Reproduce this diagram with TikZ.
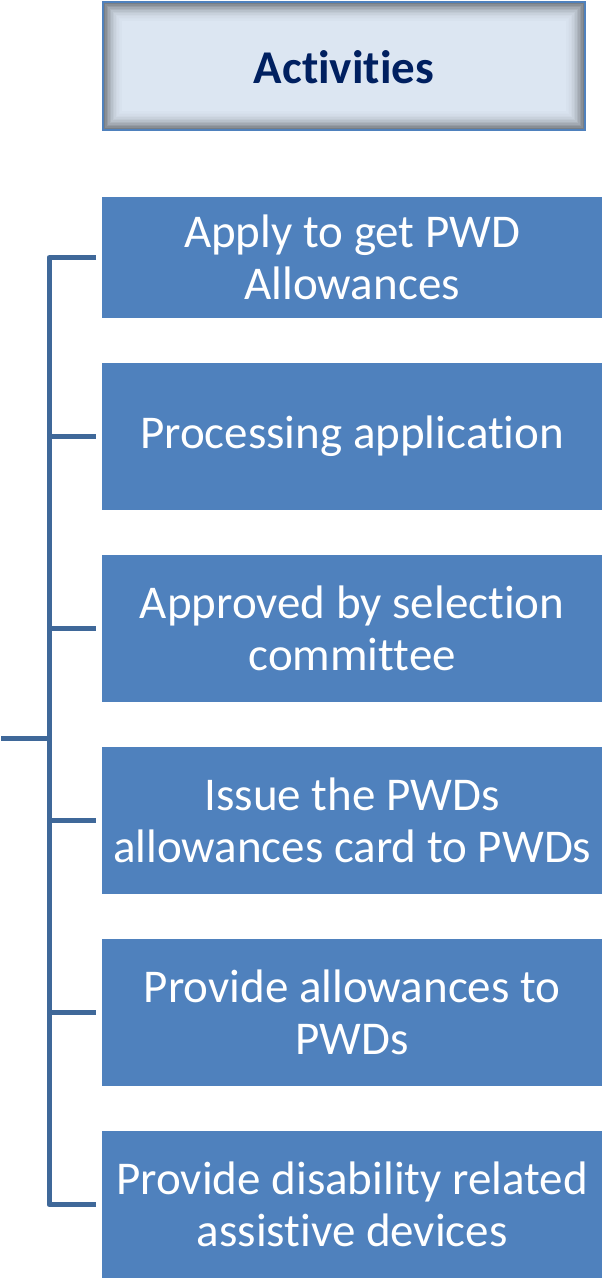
\documentclass[tikz,border=0pt]{standalone}
\usepackage{fontspec}
\setmainfont{Carlito}[Ligatures={NoCommon}]
\definecolor{boxblue}{HTML}{4F81BD}
\definecolor{linkblue}{HTML}{3F6899}
\definecolor{headfill}{HTML}{DCE6F2}
\definecolor{navy}{HTML}{002060}
\begin{document}
\begin{tikzpicture}[x=1pt,y=-1pt,
  stepbox/.style={fill=boxblue,draw=none,text=white,minimum width=500pt,align=center,
    font=\fontsize{47}{52}\selectfont,inner sep=0pt,anchor=north west},
  link/.style={draw=linkblue,line width=5pt}]
\useasboundingbox (0,0) rectangle (602,1283);
% header
\fill[headfill] (103,2) rectangle (585,130);
\foreach \i/\o in {1/0.45,2/0.38,3/0.32,4/0.26,5/0.21,6/0.16,7/0.12,8/0.09,9/0.06,10/0.04,11/0.025,12/0.015}{
  \draw[black,opacity=\o,line width=1.5pt] (103+1.5*\i,2+1.5*\i) rectangle (585-1.5*\i,130-1.5*\i);
}
\draw[boxblue,line width=2pt] (103,2) rectangle (585,130);
\node (head) at (344,67) {\fontsize{47}{52}\selectfont\bfseries\color{navy}Activities};
% boxes
\node[stepbox,minimum height=121pt] (b1) at (102,197) {Apply to get PWD\\Allowances};
\node[stepbox,minimum height=147pt] (b2) at (102,363) {Processing application};
\node[stepbox,minimum height=147pt] (b3) at (102,555) {Approved by selection\\committee};
\node[stepbox,minimum height=147pt] (b4) at (102,747) {Issue the PWDs\\allowances card to PWDs};
\node[stepbox,minimum height=147pt] (b5) at (102,939) {Provide allowances to\\PWDs};
\node[stepbox,minimum height=147pt] (b6) at (102,1131) {Provide disability related\\assistive devices};
% bracket
\coordinate (top) at (49,0 |- b1.west);
\coordinate (bot) at (49,0 |- b6.west);
\coordinate (mid) at (49,738);
\coordinate (in) at (1,738);
\draw[link,line join=round] ([xshift=-6pt]b1.west) -- (top) -- (bot) -- ([xshift=-6pt]b6.west);
\foreach \b in {b2,b3,b4,b5}{
  \draw[link] (49,0 |- \b.west) -- ([xshift=-6pt]\b.west);
}
\draw[link] (in) -- (mid);
\end{tikzpicture}
\end{document}
